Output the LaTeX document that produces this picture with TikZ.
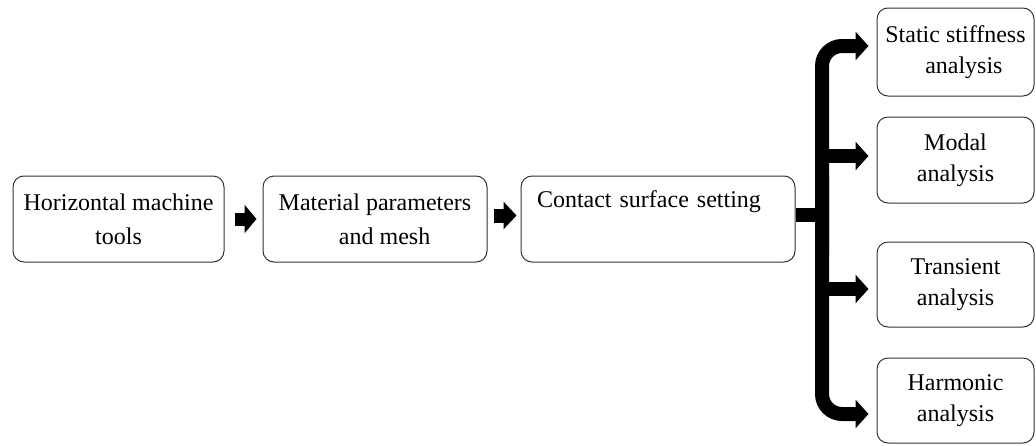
\documentclass[tikz,border=0pt]{standalone}
\usepackage{fontspec}
\setmainfont{Liberation Serif}
\usetikzlibrary{arrows.meta,calc}
\begin{document}
\begin{tikzpicture}[x=1pt,y=-1pt,
  box/.style={draw=black!80, line width=1pt, rounded corners=11pt, fill=white,
    font=\fontsize{24}{34}\selectfont, align=center, inner sep=0pt},
  flow/.style={line width=14pt, -{Triangle[length=13pt,width=28pt]}},
  trunk/.style={line width=14pt},
]
\useasboundingbox (0,0) rectangle (1036,445);
% left chain
\node[box, minimum width=211pt, minimum height=86pt] (b1) at (118.5,219) {Horizontal machine\\tools};
\node[box, minimum width=224pt, minimum height=86pt] (b2) at (375,219) {Material parameters\\\hspace*{0.8em}and mesh};
\node[box, minimum width=274pt, minimum height=86pt, align=left, inner xsep=16pt,
      text width=242pt, text height=31pt, text depth=55pt] (b3) at (658,219) {Contact surface setting};
% right column
\node[box, minimum width=157pt, minimum height=88pt, font=\fontsize{24}{31}\selectfont] (s1) at (955.5,52) {Static stiffness\\\hspace*{0.7em}analysis};
\node[box, minimum width=157pt, minimum height=86pt, font=\fontsize{24}{31}\selectfont] (s2) at (955.5,160) {Modal\\analysis};
\node[box, minimum width=157pt, minimum height=85pt, font=\fontsize{24}{31}\selectfont] (s3) at (955.5,284.5) {Transient\\analysis};
\node[box, minimum width=157pt, minimum height=85pt, font=\fontsize{24}{31}\selectfont] (s4) at (955.5,400.5) {Harmonic\\analysis};
% small arrows
\draw[line width=13pt, -{Triangle[length=12pt,width=28pt]}, shorten <=10pt, shorten >=6pt] (b1.east) -- (b2.west);
\draw[line width=14pt, -{Triangle[length=13pt,width=27pt]}, shorten <=6pt, shorten >=4pt] ([yshift=3.5pt]b2.east) -- ([yshift=3.5pt]b3.west);
% trunk
\coordinate (j) at (822,215);
\draw[trunk] ([yshift=4pt]b3.east) -- ([xshift=7pt]j);
\draw[flow, rounded corners=20pt, shorten >=8pt] ($(j)+(0,40)$) |- ([yshift=6pt]s1.west);
\draw[flow, rounded corners=20pt, shorten >=8pt] ($(j)+(0,-40)$) |- ([yshift=-13.5pt]s4.west);
\draw[flow, shorten >=8pt] ([yshift=4pt]s2.west -| j) -- ([yshift=4pt]s2.west);
\draw[flow, shorten >=8pt] ([yshift=-4.5pt]s3.west -| j) -- ([yshift=-4.5pt]s3.west);
\end{tikzpicture}
\end{document}
